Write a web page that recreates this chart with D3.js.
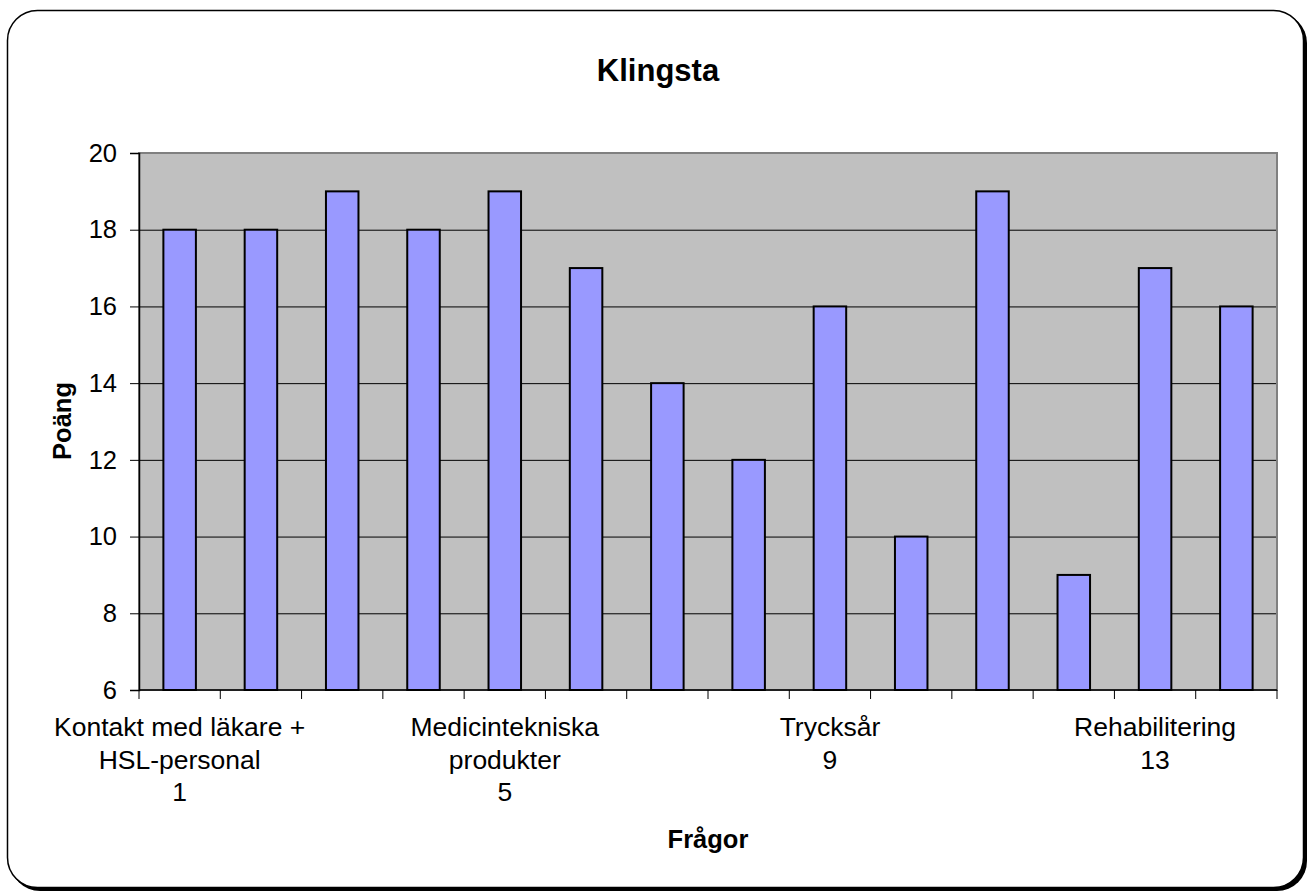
<!DOCTYPE html>
<html lang="sv">
<head>
<meta charset="utf-8">
<title>Klingsta</title>
<script src="https://d3js.org/d3.v7.min.js"></script>
<style>
  body { margin: 0; background: #fff; }
  svg { display: block; font-family: "Liberation Sans", Arial, sans-serif; }
</style>
</head>
<body>
<svg width="1310" height="893"></svg>
<script>
// data
var questions = ["1","2","3","4","5","6","7","8","9","10","11","12","13","14"];
var scores = [18, 18, 19, 18, 19, 17, 14, 12, 16, 10, 19, 9, 17, 16];
var catLabels = [
  ["Kontakt med läkare +", "HSL-personal", "1"],
  [], [], [],
  ["Medicintekniska", "produkter", "5"],
  [], [], [],
  ["Trycksår", "9"],
  [], [], [],
  ["Rehabilitering", "13"],
  []
];
var yTicks = [6, 8, 10, 12, 14, 16, 18, 20];

var svg = d3.select("svg");
var plot = {left: 139, right: 1277, top: 153, bottom: 690};

// outer frame with shadow
svg.append("rect")
  .attr("x", 10).attr("y", 13)
  .attr("width", 1297).attr("height", 878)
  .attr("rx", 30).attr("ry", 30)
  .attr("fill", "#000");
svg.append("rect")
  .attr("x", 7.5).attr("y", 10.5)
  .attr("width", 1296).attr("height", 877)
  .attr("rx", 30).attr("ry", 30)
  .attr("fill", "#fff").attr("stroke", "#000").attr("stroke-width", 1.5);

var x = d3.scaleBand().domain(questions)
  .range([plot.left, plot.right])
  .paddingInner(0.6).paddingOuter(0.3);
var y = d3.scaleLinear().domain([6, 20]).range([plot.bottom, plot.top]);

// plot background
svg.append("rect")
  .attr("x", plot.left).attr("y", plot.top)
  .attr("width", plot.right - plot.left).attr("height", plot.bottom - plot.top)
  .attr("fill", "#c0c0c0");

// gridlines
svg.append("g").selectAll("line")
  .data(yTicks.filter(function(d){ return d > 6 && d < 20; }))
  .join("line")
  .attr("x1", plot.left).attr("x2", plot.right)
  .attr("y1", function(d){ return y(d) + 0.5; })
  .attr("y2", function(d){ return y(d) + 0.5; })
  .attr("stroke", "#000").attr("stroke-width", 1);

// plot border
svg.append("rect")
  .attr("x", plot.left).attr("y", plot.top)
  .attr("width", plot.right - plot.left).attr("height", plot.bottom - plot.top)
  .attr("fill", "none").attr("stroke", "#808080").attr("stroke-width", 2);

// bars
svg.append("g").selectAll("rect")
  .data(scores)
  .join("rect")
  .attr("x", function(d, i){ return x(questions[i]); })
  .attr("y", function(d){ return y(d); })
  .attr("width", x.bandwidth())
  .attr("height", function(d){ return y(6) - y(d); })
  .attr("fill", "#9999ff")
  .attr("stroke", "#000").attr("stroke-width", 2);

// y axis
var yAxis = svg.append("g")
  .attr("transform", "translate(" + plot.left + ",0)")
  .call(d3.axisLeft(y).tickValues(yTicks).tickSize(9).tickPadding(13));
yAxis.select(".domain").attr("stroke", "#000").attr("stroke-width", 1.5);
yAxis.selectAll("line").attr("stroke", "#000");
yAxis.selectAll("text").attr("font-size", 25.5).attr("fill", "#000")
  .attr("font-family", "Liberation Sans, Arial, sans-serif");

// x axis: ticks at category boundaries
var step = x.step();
var bounds = questions.map(function(q){ return x(q) - step * 0.3; });
bounds.push(plot.right);
svg.append("line")
  .attr("x1", plot.left).attr("x2", plot.right)
  .attr("y1", plot.bottom).attr("y2", plot.bottom)
  .attr("stroke", "#000").attr("stroke-width", 1.5);
svg.append("g").selectAll("line")
  .data(bounds)
  .join("line")
  .attr("x1", function(d){ return d; }).attr("x2", function(d){ return d; })
  .attr("y1", plot.bottom).attr("y2", plot.bottom + 9)
  .attr("stroke", "#000").attr("stroke-width", 1);

// category labels
var lbl = svg.append("g").selectAll("text")
  .data(catLabels)
  .join("text")
  .attr("text-anchor", "middle")
  .attr("font-size", 26.5)
  .attr("transform", function(d, i){
    return "translate(" + (x(questions[i]) + x.bandwidth() / 2) + ",736)";
  });
lbl.selectAll("tspan")
  .data(function(d){ return d; })
  .join("tspan")
  .attr("x", 0)
  .attr("y", function(d, j){ return j * 32.5; })
  .text(function(d){ return d; });

// titles
svg.append("text")
  .attr("x", 658).attr("y", 81)
  .attr("text-anchor", "middle")
  .attr("font-size", 31).attr("font-weight", "bold")
  .text("Klingsta");

svg.append("text")
  .attr("x", 708).attr("y", 848)
  .attr("text-anchor", "middle")
  .attr("font-size", 25.5).attr("font-weight", "bold")
  .text("Frågor");

svg.append("text")
  .attr("transform", "translate(71,421) rotate(-90)")
  .attr("text-anchor", "middle")
  .attr("font-size", 25.5).attr("font-weight", "bold")
  .text("Poäng");
</script>
</body>
</html>
